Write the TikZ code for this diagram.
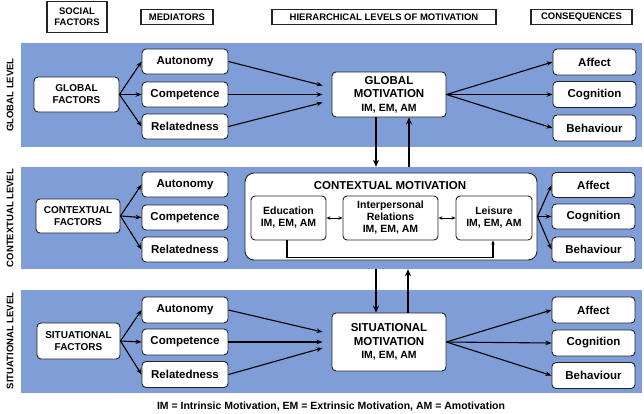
\documentclass[tikz,border=0pt]{standalone}
\usepackage{fontspec}
\setmainfont{Liberation Sans}
\usetikzlibrary{arrows.meta,calc}
\definecolor{bandblue}{RGB}{127,157,214}
\definecolor{edgegray}{RGB}{35,35,35}
\begin{document}
\begin{tikzpicture}[x=1pt,y=-1pt,
  band/.style={fill=bandblue,draw=none,inner sep=0pt},
  box/.style={draw=edgegray,fill=white,rounded corners=4pt,line width=0.9pt,align=center,inner sep=1pt,font=\bfseries\fontsize{11.5}{12.5}\selectfont},
  facbox/.style={box,font=\bfseries\fontsize{10}{12}\selectfont},
  motbox/.style={box,font=\bfseries\fontsize{11.5}{13.5}\selectfont},
  subbox/.style={box,font=\bfseries\fontsize{10.5}{12}\selectfont},
  hdr/.style={draw=edgegray,fill=white,line width=1.1pt,align=center,inner sep=1pt,font=\bfseries\fontsize{9.5}{11}\selectfont},
  lvl/.style={rotate=90,font=\bfseries\fontsize{9.5}{10}\selectfont},
  arr/.style={-{Stealth[length=6pt,width=4.5pt]},line width=1.1pt},
  varr/.style={-{Stealth[length=7pt,width=6pt]},line width=2pt},
  darr/.style={{Stealth[length=4pt,width=3.5pt]}-{Stealth[length=4pt,width=3.5pt]},line width=1pt},
  plain/.style={line width=1.1pt}]
\useasboundingbox (0,0) rectangle (644,413);
% bands
\node[band,minimum width=621pt,minimum height=104pt] (B1) at (331.5,95) {};
\node[band,minimum width=621pt,minimum height=102pt] (B2) at (331.5,218) {};
\node[band,minimum width=621pt,minimum height=103pt] (B3) at (331.5,341.5) {};
% headers
\node[hdr,minimum width=60pt,minimum height=31pt] (H1) at (77,17) {SOCIAL\\FACTORS};
\node[hdr,minimum width=72pt,minimum height=15pt] (H2) at (177,17) {MEDIATORS};
\node[hdr,minimum width=224pt,minimum height=15pt] (H3) at (384,17) {HIERARCHICAL LEVELS OF MOTIVATION};
\node[hdr,minimum width=101pt,minimum height=15pt] (H4) at (581.5,17) {CONSEQUENCES};
% level labels
\node[lvl] (L1) at (10,95) {GLOBAL LEVEL};
\node[lvl] (L2) at (10,218) {CONTEXTUAL LEVEL};
\node[lvl] (L3) at (10,341) {SITUATIONAL LEVEL};
% ---- global level
\node[facbox,minimum width=85pt,minimum height=35pt] (GF) at (76.5,94.5) {GLOBAL\\FACTORS};
\node[box,minimum width=86pt,minimum height=25pt] (A1) at (185,61.5) {Autonomy};
\node[box,minimum width=86pt,minimum height=25pt] (C1) at (185,94.5) {Competence};
\node[box,minimum width=86pt,minimum height=25pt] (R1) at (185,126.5) {Relatedness};
\node[motbox,minimum width=114pt,minimum height=45pt] (GM) at (389,94.5) {GLOBAL\\MOTIVATION\\{\fontsize{10.5}{12}\selectfont IM, EM, AM}};
\node[box,minimum width=83pt,minimum height=26pt] (F1) at (594.5,62) {Affect};
\node[box,minimum width=83pt,minimum height=26pt] (G1) at (594.5,94.5) {Cognition};
\node[box,minimum width=83pt,minimum height=26pt] (E1) at (594.5,128) {Behaviour};
\draw[arr] (GF.east) -- (A1.west);
\draw[arr] (GF.east) -- (C1.west);
\draw[arr] (GF.east) -- (R1.west);
\draw[arr] (A1.east) -- ($(GM.west)+(-9,-9)$);
\draw[arr] (C1.east) -- ($(GM.west)+(-9,0)$);
\draw[arr] (R1.east) -- ($(GM.west)+(-9,8)$);
\draw[arr] (GM.east) -- (F1.west);
\draw[arr] (GM.east) -- (G1.west);
\draw[arr] (GM.east) -- (E1.west);
% ---- contextual level
\node[facbox,minimum width=84pt,minimum height=34pt] (CF) at (78,216) {CONTEXTUAL\\FACTORS};
\node[box,minimum width=86pt,minimum height=25pt] (A2) at (185,184.5) {Autonomy};
\node[box,minimum width=86pt,minimum height=25pt] (C2) at (185,217.5) {Competence};
\node[box,minimum width=86pt,minimum height=25pt] (R2) at (185,249.5) {Relatedness};
\node[box,rounded corners=9pt,minimum width=292pt,minimum height=87pt] (CM) at (391,216.5) {};
\node[font=\bfseries\fontsize{11.5}{13}\selectfont] (CMT) at (390,186) {CONTEXTUAL MOTIVATION};
\node[subbox,minimum width=75pt,minimum height=44pt] (ED) at (288.5,218) {Education\\IM, EM, AM};
\node[subbox,minimum width=95pt,minimum height=44pt] (IR) at (390.5,218) {Interpersonal\\Relations\\IM, EM, AM};
\node[subbox,minimum width=76pt,minimum height=44pt] (LE) at (494,218) {Leisure\\IM, EM, AM};
\node[box,minimum width=83pt,minimum height=25pt] (F2) at (593.5,185) {Affect};
\node[box,minimum width=83pt,minimum height=25pt] (G2) at (593.5,216.5) {Cognition};
\node[box,minimum width=83pt,minimum height=25pt] (E2) at (593.5,249.5) {Behaviour};
\draw[arr] (CF.east) -- (A2.west);
\draw[arr] (CF.east) -- (C2.west);
\draw[arr] (CF.east) -- (R2.west);
\draw[darr] (ED.east) -- (IR.west);
\draw[darr] (IR.east) -- (LE.west);
\coordinate (EDb) at ($(ED.south)+(-1.5,0)$);
\coordinate (LEb) at ($(LE.south)+(-1,0)$);
\draw[plain,-{Stealth[length=4pt,width=3.5pt]}] (EDb) -- ++(0,17) -| (LEb);
\draw[arr] (CM.east) -- (F2.west);
\draw[arr] (CM.east) -- (G2.west);
\draw[arr] (CM.east) -- (E2.west);
% ---- situational level
\node[facbox,minimum width=83pt,minimum height=36pt] (SF) at (78.5,341) {SITUATIONAL\\FACTORS};
\node[box,minimum width=86pt,minimum height=26pt] (A3) at (185,310) {Autonomy};
\node[box,minimum width=86pt,minimum height=26pt] (C3) at (185,342) {Competence};
\node[box,minimum width=86pt,minimum height=26pt] (R3) at (185,374.5) {Relatedness};
\node[motbox,minimum width=114pt,minimum height=58pt] (SM) at (389,342) {SITUATIONAL\\MOTIVATION\\{\fontsize{10.5}{12}\selectfont IM, EM, AM}};
\node[box,minimum width=83pt,minimum height=26pt] (F3) at (593.5,310) {Affect};
\node[box,minimum width=83pt,minimum height=26pt] (G3) at (593.5,343) {Cognition};
\node[box,minimum width=83pt,minimum height=26pt] (E3) at (593.5,375.5) {Behaviour};
\draw[arr] (SF.east) -- (A3.west);
\draw[arr] (SF.east) -- (C3.west);
\draw[arr] (SF.east) -- (R3.west);
\draw[arr] (A3.east) -- ($(SM.west)+(-9,-10)$);
\draw[arr] (C3.east) -- ($(SM.west)+(-9,0)$);
\draw[arr] (R3.east) -- ($(SM.west)+(-9,6)$);
\draw[arr] (SM.east) -- (F3.west);
\draw[arr] (SM.east) -- (G3.west);
\draw[arr] (SM.east) -- (E3.west);
% ---- vertical links
\coordinate (v1) at ($(GM.south)+(-13,0)$);
\coordinate (v2) at ($(GM.south)+(20,0)$);
\draw[varr] (v1) -- (v1 |- B2.north);
\draw[varr] (v2 |- B2.north) -- (v2);
\coordinate (v3) at ($(SM.north)+(-13,0)$);
\coordinate (v4) at ($(SM.north)+(19,0)$);
\draw[varr] (v3 |- B2.south) -- (v3);
\draw[varr] (v4) -- (v4 |- B2.south);
% footnote
\node[font=\bfseries\fontsize{10.5}{12}\selectfont] (FN) at (331,406) {IM = Intrinsic Motivation, EM = Extrinsic Motivation, AM = Amotivation};
\end{tikzpicture}
\end{document}
